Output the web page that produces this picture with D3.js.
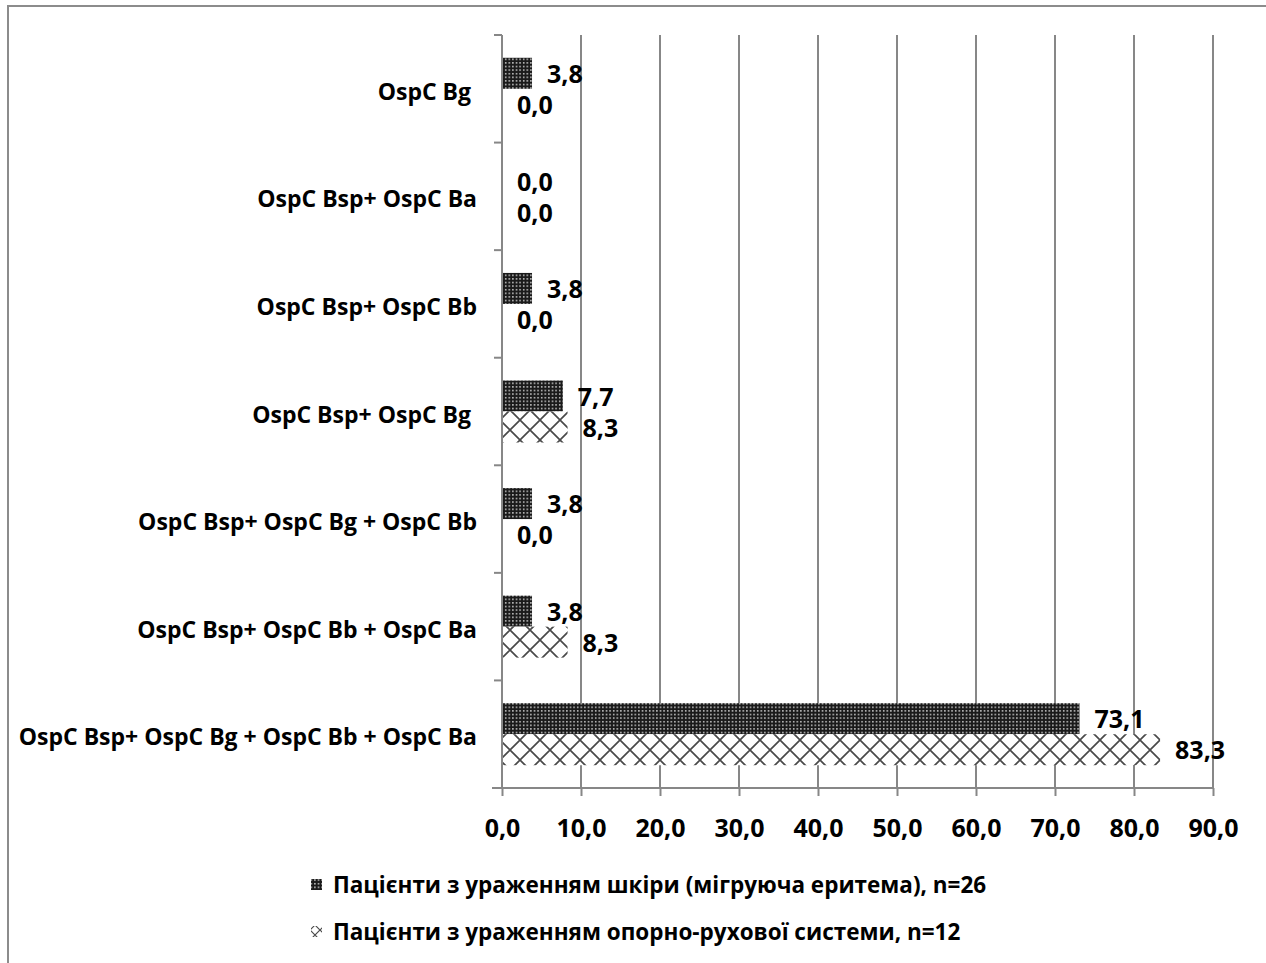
<!DOCTYPE html>
<html>
<head>
<meta charset="utf-8">
<script src="https://cdn.jsdelivr.net/npm/d3@7"></script>
<style>
  html, body { margin: 0; padding: 0; background: #fff; }
  svg { display: block; }
  text { font-family: "Open Sans", "Noto Sans", sans-serif; font-weight: 700; fill: #000; white-space: pre; }
</style>
</head>
<body>
<svg id="chart" width="1266" height="963"></svg>
<script>
// Combinations of OspC antigens (top to bottom)
const categories = [
  "OspC Bg ",
  "OspC Bsp+ OspC Ba",
  "OspC Bsp+ OspC Bb",
  "OspC Bsp+ OspC Bg ",
  "OspC Bsp+ OspC Bg + OspC Bb",
  "OspC Bsp+ OspC Bb + OspC Ba",
  "OspC Bsp+ OspC Bg + OspC Bb + OspC Ba"
];
// Share of patients, %
const skinValues  = [3.8, 0.0, 3.8, 7.7, 3.8, 3.8, 73.1];
const jointValues = [0.0, 0.0, 0.0, 8.3, 0.0, 8.3, 83.3];
const seriesNames = [
  "Пацієнти з ураженням шкіри (мігруюча еритема), n=26",
  "Пацієнти з ураженням опорно-рухової системи, n=12"
];
const xTicks = [0, 10, 20, 30, 40, 50, 60, 70, 80, 90];

const fmt = v => v.toFixed(1).replace(".", ",");
const svg = d3.select("#chart");

// Fill patterns
const defs = svg.append("defs");
const dots = defs.append("pattern").attr("id", "dots")
  .attr("patternUnits", "userSpaceOnUse").attr("width", 3.6).attr("height", 3.6);
dots.append("rect").attr("width", 3.6).attr("height", 3.6).attr("fill", "#1a1a1a");
dots.append("rect").attr("x", 1).attr("y", 1).attr("width", 1.4).attr("height", 1.4).attr("fill", "#e8e8e8");

function lattice(id, p, w) {
  const pat = defs.append("pattern").attr("id", id)
    .attr("patternUnits", "userSpaceOnUse").attr("width", p).attr("height", p);
  pat.append("rect").attr("width", p).attr("height", p).attr("fill", "#fff");
  pat.append("path")
    .attr("d", `M0,0L${p},${p}M${p},0L0,${p}M${-p/2},${p/2}L${p/2},${-p/2}M${p/2},${p*1.5}L${p*1.5},${p/2}`)
    .attr("stroke", "#4a4a4a").attr("stroke-width", w).attr("fill", "none");
}
lattice("cross", 20, 1.7);
lattice("crossSmall", 10, 1.2);

// Outer frame
svg.append("path").attr("d", "M8,970V6H1270")
  .attr("fill", "none").attr("stroke", "#8c8c8c").attr("stroke-width", 2);

const x = d3.scaleLinear().domain([0, 90]).range([502, 1213]);
const y = d3.scaleBand().domain(categories).range([35, 788]);
const ySub = d3.scaleBand().domain([0, 1]).range([0, y.bandwidth()]).paddingOuter(0.735);

const grid = "#878787";
const numSize = "25px";

// Vertical gridlines
svg.append("g").selectAll("line").data(xTicks.slice(1)).join("line")
  .attr("x1", d => x(d)).attr("x2", d => x(d))
  .attr("y1", 35).attr("y2", 788)
  .attr("stroke", grid).attr("stroke-width", 2);

// Bars and value labels
const rows = categories.map((c, i) => ({ c, vals: [skinValues[i], jointValues[i]] }));
const fills = ["url(#dots)", "url(#cross)"];
const g = svg.append("g");
rows.forEach(r => {
  r.vals.forEach((v, k) => {
    const by = y(r.c) + ySub(k);
    if (v > 0) {
      g.append("rect")
        .attr("x", x(0)).attr("y", by)
        .attr("width", x(v) - x(0)).attr("height", ySub.bandwidth())
        .attr("fill", fills[k]);
    }
    g.append("text")
      .attr("x", x(v) + 15).attr("y", by + ySub.bandwidth() / 2 + 1)
      .attr("dy", "0.35em")
      .style("font-size", numSize)
      .text(fmt(v));
  });
});

// X axis
const xAxis = d3.axisBottom(x).tickValues(xTicks).tickSize(8).tickPadding(23).tickFormat(fmt);
const gx = svg.append("g").attr("transform", "translate(0,788)").call(xAxis);
gx.select(".domain").attr("stroke", grid).attr("stroke-width", 2).attr("d", "M492,0H1213");
gx.selectAll(".tick line").attr("stroke", grid).attr("stroke-width", 2);
gx.selectAll(".tick text").style("font-size", numSize).attr("fill", "#000");

// Y axis
const gy = svg.append("g");
gy.append("line").attr("x1", 502).attr("x2", 502).attr("y1", 35).attr("y2", 788)
  .attr("stroke", grid).attr("stroke-width", 2);
const bounds = categories.map(c => y(c)).concat([788]);
gy.selectAll("line.t").data(bounds).join("line").attr("class", "t")
  .attr("x1", 494).attr("x2", 502).attr("y1", d => d).attr("y2", d => d)
  .attr("stroke", grid).attr("stroke-width", 2);
gy.selectAll("text").data(categories).join("text")
  .attr("x", 477).attr("y", d => y(d) + y.bandwidth() / 2 + 3)
  .attr("dy", "0.35em").attr("text-anchor", "end")
  .style("font-size", "23px")
  .text(d => d);

// Legend
const legend = svg.append("g");
const swFill = ["url(#dots)", "url(#crossSmall)"];
seriesNames.forEach((name, i) => {
  const ly = 885 + i * 47;
  legend.append("rect").attr("x", 311).attr("y", ly - 6).attr("width", 11).attr("height", 11)
    .attr("fill", swFill[i]);
  legend.append("text").attr("x", 333).attr("y", ly).attr("dy", "0.35em")
    .style("font-size", "22.5px").text(name);
});
</script>
</body>
</html>
